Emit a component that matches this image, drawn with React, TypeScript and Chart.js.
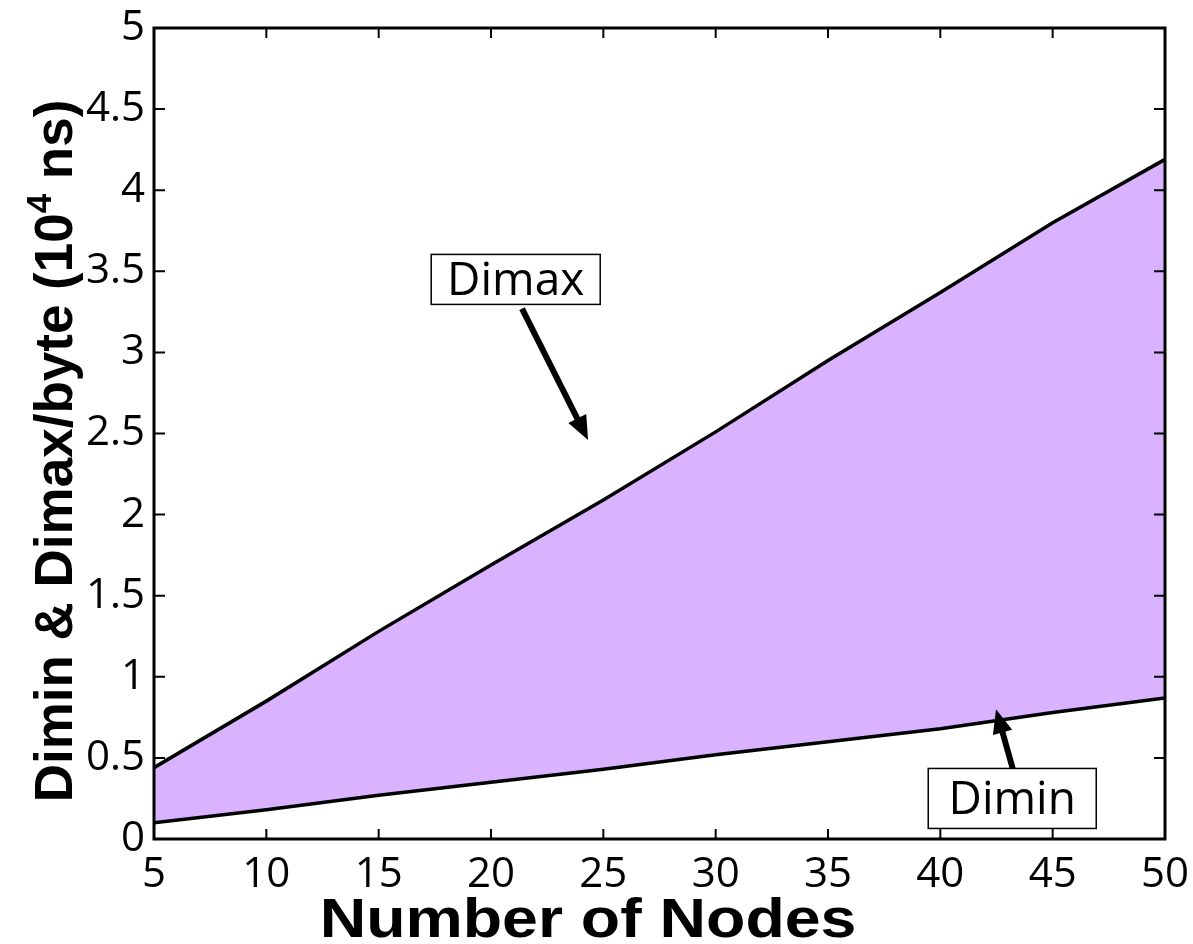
import React, { useEffect, useRef } from "react";
import { Chart, registerables } from "chart.js";

Chart.register(...registerables);

// ---- data ----
const nodes = [5, 10, 15, 20, 25, 30, 35, 40, 45, 50];
const dimax = [0.44, 0.85, 1.28, 1.69, 2.09, 2.51, 2.95, 3.37, 3.8, 4.19];
const dimin = [0.1, 0.18, 0.27, 0.35, 0.43, 0.52, 0.6, 0.68, 0.78, 0.87];

const xTitle = "Number of Nodes";
const yTitleMain = "Dimin & Dimax/byte (10";
const yTitleSup = "4";
const yTitleEnd = " ns)";

// annotation labels (data coordinates)
const noteText = ["Dimax", "Dimin"];
const noteX = [21.1, 43.2];
const noteY = [3.45, 0.25];
const arrowFromX = [21.38, 43.23];
const arrowFromY = [3.27, 0.43];
const arrowToX = [24.32, 42.48];
const arrowToY = [2.46, 0.8];

const FILL = "rgb(217,179,255)";

const decorPlugin = {
  id: "decor",
  afterDraw(chart: any) {
    const ctx = chart.ctx;
    const { left, right, top, bottom } = chart.chartArea;
    const xs = chart.scales.x;
    const ys = chart.scales.y;
    ctx.save();
    // inward ticks
    ctx.strokeStyle = "#000";
    ctx.lineWidth = 2;
    ctx.beginPath();
    xs.ticks.forEach((t: any) => {
      const px = xs.getPixelForValue(t.value);
      ctx.moveTo(px, bottom);
      ctx.lineTo(px, bottom - 10);
      ctx.moveTo(px, top);
      ctx.lineTo(px, top + 10);
    });
    ys.ticks.forEach((t: any) => {
      const py = ys.getPixelForValue(t.value);
      ctx.moveTo(left, py);
      ctx.lineTo(left + 11, py);
      ctx.moveTo(right, py);
      ctx.lineTo(right - 11, py);
    });
    ctx.stroke();
    // box
    ctx.lineWidth = 3;
    ctx.strokeRect(left, top, right - left, bottom - top);

    // annotations
    for (let i = 0; i < noteText.length; i++) {
      const fx = xs.getPixelForValue(arrowFromX[i]);
      const fy = ys.getPixelForValue(arrowFromY[i]);
      const tx = xs.getPixelForValue(arrowToX[i]);
      const ty = ys.getPixelForValue(arrowToY[i]);
      const ang = Math.atan2(ty - fy, tx - fx);
      const headLen = 24;
      const headW = 10;
      const bx = tx - headLen * Math.cos(ang);
      const by = ty - headLen * Math.sin(ang);
      ctx.strokeStyle = "#000";
      ctx.lineWidth = 6;
      ctx.lineCap = "butt";
      ctx.beginPath();
      ctx.moveTo(fx, fy);
      ctx.lineTo(bx + 4 * Math.cos(ang), by + 4 * Math.sin(ang));
      ctx.stroke();
      ctx.fillStyle = "#000";
      ctx.beginPath();
      ctx.moveTo(tx, ty);
      ctx.lineTo(bx + headW * Math.sin(ang), by - headW * Math.cos(ang));
      ctx.lineTo(bx - headW * Math.sin(ang), by + headW * Math.cos(ang));
      ctx.closePath();
      ctx.fill();

      const cx = xs.getPixelForValue(noteX[i]);
      const cy = ys.getPixelForValue(noteY[i]);
      ctx.font = "46px 'Open Sans'";
      ctx.textAlign = "center";
      ctx.textBaseline = "middle";
      const w = i === 0 ? 169 : 168;
      const h = i === 0 ? 50 : 60;
      ctx.fillStyle = "#fff";
      ctx.fillRect(cx - w / 2, cy - h / 2, w, h);
      ctx.lineWidth = 1.5;
      ctx.strokeRect(cx - w / 2, cy - h / 2, w, h);
      ctx.fillStyle = "#000";
      ctx.fillText(noteText[i], cx, cy + 2);
    }

    // x title
    ctx.font = "bold 56px 'Liberation Sans'";
    ctx.textAlign = "center";
    ctx.textBaseline = "alphabetic";
    ctx.save();
    ctx.translate(588, 937);
    ctx.scale(1.15, 1);
    ctx.fillText(xTitle, 0, 0);
    ctx.restore();

    // y title with superscript
    const big = "bold 53px 'Liberation Sans'";
    const small = "bold 35px 'Liberation Sans'";
    ctx.font = big;
    const w1 = ctx.measureText(yTitleMain).width;
    const w3 = ctx.measureText(yTitleEnd).width;
    ctx.font = small;
    const w2 = ctx.measureText(yTitleSup).width;
    const total = w1 + w2 + w3;
    ctx.save();
    ctx.translate(72, 451);
    ctx.rotate(-Math.PI / 2);
    ctx.textAlign = "left";
    ctx.textBaseline = "alphabetic";
    let x0 = -total / 2;
    ctx.font = big;
    ctx.fillText(yTitleMain, x0, 0);
    x0 += w1;
    ctx.font = small;
    ctx.fillText(yTitleSup, x0, -21);
    x0 += w2;
    ctx.font = big;
    ctx.fillText(yTitleEnd, x0, 0);
    ctx.restore();

    ctx.restore();
  },
};

export default function App() {
  const ref = useRef<HTMLCanvasElement | null>(null);
  useEffect(() => {
    document.body.style.margin = "0";
    const canvas = ref.current;
    if (!canvas) return;
    const chart = new Chart(canvas, {
      type: "line",
      data: {
        datasets: [
          {
            label: "Dimin",
            data: nodes.map((n, i) => ({ x: n, y: dimin[i] })),
            borderColor: "#000",
            borderWidth: 3.5,
            pointRadius: 0,
            fill: false,
            tension: 0,
          },
          {
            label: "Dimax",
            data: nodes.map((n, i) => ({ x: n, y: dimax[i] })),
            borderColor: "#000",
            borderWidth: 3.5,
            pointRadius: 0,
            fill: { target: 0 },
            backgroundColor: FILL,
            tension: 0,
          },
        ],
      },
      options: {
        animation: false,
        responsive: true,
        maintainAspectRatio: false,
        layout: { padding: { top: 28, right: 28, left: 0, bottom: 0 } },
        plugins: {
          legend: { display: false },
          tooltip: { enabled: false },
          filler: { propagate: false },
        },
        scales: {
          x: {
            type: "linear",
            min: 5,
            max: 50,
            grid: { display: false, drawTicks: false },
            border: { display: false },
            ticks: {
              stepSize: 5,
              color: "#000",
              font: { family: "'Open Sans'", size: 42, lineHeight: 1.2 },
              padding: 11,
              maxRotation: 0,
              callback: (v: any) => String(Number(v)),
            },
            afterFit: (s: any) => {
              s.height = 105;
              s.paddingRight = 0;
              s.paddingLeft = 0;
            },
          },
          y: {
            type: "linear",
            min: 0,
            max: 5,
            grid: { display: false, drawTicks: false },
            border: { display: false },
            ticks: {
              stepSize: 0.5,
              color: "#000",
              font: { family: "'Open Sans'", size: 42, lineHeight: 0.8 },
              padding: 9,
              callback: (v: any) => String(Number(v)),
            },
            afterFit: (s: any) => {
              s.width = 154;
              s.paddingTop = 0;
              s.paddingBottom = 0;
            },
          },
        },
      },
      plugins: [decorPlugin],
    });
    return () => chart.destroy();
  }, []);
  return (
    <div style={{ position: "relative", width: 1193, height: 944 }}>
      <canvas ref={ref} />
    </div>
  );
}
